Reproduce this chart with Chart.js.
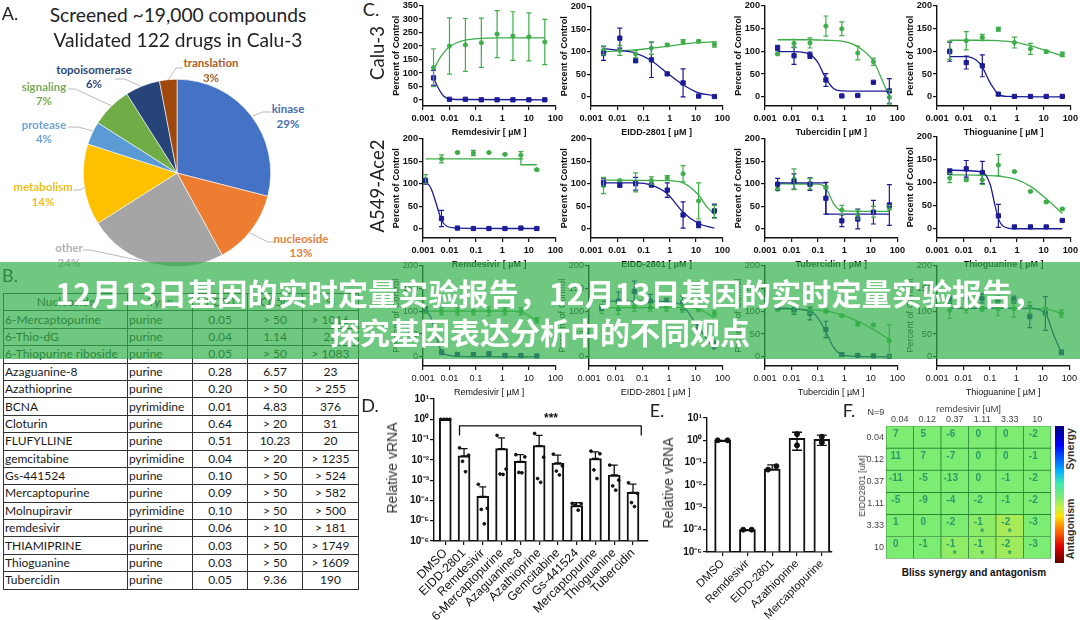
<!DOCTYPE html>
<html>
<head>
<meta charset="utf-8">
<script src="https://cdn.jsdelivr.net/npm/chart.js@4"></script>
<style>
  html, body { margin: 0; padding: 0; background: #fff; }
  body { position: relative; width: 1080px; height: 620px; overflow: hidden; }
  canvas { position: absolute; }
  .txt { position: absolute; white-space: nowrap; transform-origin: center; line-height: 1; }
  #leaders { position: absolute; left: 0; top: 0; }
  #drugTable { position: absolute; left: 3px; top: 293px; border-collapse: collapse; table-layout: fixed; font: 12px Lato, sans-serif; color: #1a1a1a; }
  #drugTable td { border: 1px solid #333; height: 16.4px; padding: 0 0 0 1px; white-space: nowrap; line-height: 1; }
  #drugTable td.num { text-align: center; padding: 0; }
  #colorbar { position: absolute; left: 1055px; top: 426px; width: 9px; height: 137px;
    background: linear-gradient(#00007f 0%, #0000ff 14%, #00b4ff 33%, #3fe8b0 42%, #7cec72 52%, #c8f040 60%, #ffe000 66%, #ff7000 76%, #e00000 88%, #600000 100%); }
  #banner { position: absolute; left: 0; top: 262px; width: 1080px; height: 97px; background: rgba(50, 176, 74, 0.7); z-index: 10; }
  .bannerLine { position: absolute; left: 0; width: 1080px; text-align: center; color: #fff; font: 700 30px "Noto Sans CJK SC", sans-serif; line-height: 1; white-space: nowrap; }
</style>
</head>
<body>
<svg id="leaders" width="360" height="280"></svg>
<table id="drugTable"></table>
<div id="colorbar"></div>
<div id="banner">
  <div class="bannerLine" style="top:15px;left:9px;letter-spacing:0.15px">12月13日基因的实时定量实验报告，12月13日基因的实时定量实验报告，</div>
  <div class="bannerLine" style="top:54px">探究基因表达分析中的不同观点</div>
</div>
<script>
// A. pie
const pieCategories = ["kinase", "nucleoside", "other", "metabolism", "protease", "signaling", "topoisomerase", "translation"];
const pieValues = [29, 13, 24, 14, 4, 7, 6, 3];
const pieColors = ["#4472c4", "#ed7d31", "#a5a5a5", "#ffc000", "#5b9bd5", "#70ad47", "#264478", "#9e480e"];

// B. table
const tableNames = ["Nucleoside", "6-Mercaptopurine", "6-Thio-dG", "6-Thiopurine riboside", "Azaguanine-8", "Azathioprine", "BCNA", "Cloturin", "FLUFYLLINE", "gemcitabine", "Gs-441524", "Mercaptopurine", "Molnupiravir", "remdesivir", "THIAMIPRINE", "Thioguanine", "Tubercidin"];
const tableTypes = ["Type", "purine", "purine", "purine", "purine", "purine", "pyrimidine", "purine", "purine", "pyrimidine", "purine", "purine", "pyrimidine", "purine", "purine", "purine", "purine"];
const tableEc50 = ["EC50", "0.05", "0.04", "0.05", "0.28", "0.20", "0.01", "0.64", "0.51", "0.04", "0.10", "0.09", "0.10", "0.06", "0.03", "0.03", "0.05"];
const tableCc50 = ["CC50", "> 50", "1.14", "> 50", "6.57", "> 50", "4.83", "> 20", "10.23", "> 20", "> 50", "> 50", "> 50", "> 10", "> 50", "> 50", "9.36"];
const tableSi = ["SI", "> 1016", "26", "> 1083", "23", "> 255", "376", "31", "20", "> 1235", "> 524", "> 582", "> 500", "> 181", "> 1749", "> 1609", "190"];

// C. dose response, doses in uM
const doseWide = [0.0025, 0.01, 0.04, 0.16, 0.63, 2.5, 10, 40];
const doseLow = [0.00125, 0.005, 0.02, 0.08, 0.31, 1.25, 5, 20];
const doseStd = [0.003, 0.0125, 0.05, 0.2, 0.8, 3.2, 12.5, 50];
const logTickValues = [0.001, 0.01, 0.1, 1, 10, 100];
const logTickLabels = ["0.001", "0.01", "0.1", "1", "10", "100"];
const drugTitles = ["Remdesivir [ µM ]", "EIDD-2801 [ µM ]", "Tubercidin [ µM ]", "Thioguanine [ µM ]"];

const caluRemGreen = [120, 200, 204, 212, 244, 237, 234, 215];
const caluRemGreenErr = [70, 104, 98, 91, 87, 90, 89, 84];
const caluRemBlue = [82, 3, 3, 1, 1, 1, 1, 1];
const caluRemBlueErr = [28, 2, 2, 1, 1, 1, 1, 1];
const caluRemGreenCurve = [[0.0025, 110], [0.004, 150], [0.006, 175], [0.01, 197], [0.02, 213], [0.04, 222], [0.16, 228], [0.63, 230], [2.5, 230], [10, 230], [40, 230]];
const caluRemBlueCurve = [[0.0025, 85], [0.003, 65], [0.004, 40], [0.006, 15], [0.01, 4], [0.02, 2], [40, 1]];

const caluEiddGreen = [103, 103, 95, 108, 115, 122, 123, 116];
const caluEiddGreenErr = [10, 11, 8, 14, 3, 5, 3, 6];
const caluEiddBlue = [96, 130, 80, 82, 51, 31, 2, 1];
const caluEiddBlueErr = [15, 22, 3, 39, 2, 31, 1, 1];
const caluEiddGreenCurve = [[0.003, 100], [0.0125, 102], [0.05, 104], [0.2, 108], [0.8, 112], [3.2, 117], [12.5, 120], [50, 122]];
const caluEiddBlueCurve = [[0.003, 107], [0.0125, 103], [0.05, 97], [0.2, 80], [0.8, 53], [3.2, 27], [12.5, 9], [50, 3]];

const caluTubGreen = [94, 117, 118, 155, 149, 96, 77, -1];
const caluTubGreenErr = [2, 9, 11, 22, 15, 15, 8, 15];
const caluTubBlue = [107, 90, 91, 37, 2, 3, 32, 13];
const caluTubBlueErr = [6, 19, 7, 14, 1, 1, 1, 27];
const caluTubGreenCurve = [[0.003, 125], [0.05, 125], [0.2, 124], [0.8, 122], [3.2, 110], [12.5, 78], [30, 30], [50, 0]];
const caluTubBlueCurve = [[0.003, 99], [0.0125, 99], [0.05, 93], [0.1, 75], [0.2, 40], [0.4, 18], [0.8, 13], [3.2, 12.5], [50, 12.5]];

const caluThioGreen = [102, 123, 130, 148, 119, 105, 99, 93];
const caluThioGreenErr = [20, 20, 7, 4, 12, 12, 3, 5];
const caluThioBlue = [99, 75, 68, 6, 1, 1, 1, 1];
const caluThioBlueErr = [21, 14, 24, 3, 1, 1, 1, 1];
const caluThioGreenCurve = [[0.003, 124], [0.05, 124], [0.2, 123], [0.8, 120], [3.2, 112], [12.5, 101], [50, 90]];
const caluThioBlueCurve = [[0.003, 88], [0.0125, 88], [0.03, 80], [0.05, 65], [0.1, 30], [0.2, 6], [0.4, 1], [50, 0]];

const aceRemGreen = [110, 155, 169, 168, 169, 165, 163, 131];
const aceRemGreenErr = [10, 9, 2, 6, 1, 1, 8, 2];
const aceRemBlue = [105, 23, 2, 1, 1, 1, 2, 1];
const aceRemBlueErr = [6, 18, 2, 1, 1, 1, 1, 1];
const aceRemGreenCurve = [[0.00125, 155], [5, 155], [5, 142], [20, 142]];
const aceRemBlueCurve = [[0.00125, 105], [0.002, 90], [0.003, 60], [0.005, 20], [0.008, 6], [0.02, 2], [20, 1]];

const aceEiddGreen = [96, 107, 103, 107, 113, 122, 62, 38];
const aceEiddGreenErr = [18, 2, 21, 8, 5, 18, 40, 14];
const aceEiddBlue = [103, 97, 100, 97, 86, 31, 10, 40];
const aceEiddBlueErr = [8, 4, 14, 3, 16, 29, 7, 15];
const aceEiddGreenCurve = [[0.003, 108], [0.8, 107], [3.2, 102], [12.5, 75], [25, 50], [50, 32]];
const aceEiddBlueCurve = [[0.003, 102], [0.05, 102], [0.2, 97], [0.8, 78], [3.2, 37], [12.5, 12], [50, 2]];

const aceTubGreen = [88, 110, 100, 92, 42, 32, 38, 47];
const aceTubGreenErr = [1, 23, 12, 3, 10, 10, 12, 5];
const aceTubBlue = [99, 105, 99, 68, 18, 22, 37, 53];
const aceTubBlueErr = [13, 17, 14, 35, 13, 22, 26, 45];
const aceTubGreenCurve = [[0.003, 100], [0.1, 99], [0.2, 90], [0.4, 55], [0.8, 41], [3.2, 39], [50, 39]];
const aceTubBlueCurve = [[0.003, 102], [0.2, 102], [0.2, 33], [50, 33]];

const aceThioGreen = [110, 106, 106, 138, 124, 81, 58, 43];
const aceThioGreenErr = [10, 2, 10, 23, 1, 1, 2, 2];
const aceThioBlue = [124, 130, 122, 28, 4, 4, 4, 18];
const aceThioBlueErr = [6, 18, 24, 25, 1, 1, 1, 1];
const aceThioGreenCurve = [[0.003, 117], [0.05, 116], [0.2, 114], [0.8, 108], [3.2, 92], [12.5, 65], [50, 33]];
const aceThioBlueCurve = [[0.003, 127], [0.05, 123], [0.1, 95], [0.15, 50], [0.2, 22], [0.3, 6], [0.8, 0], [50, 0]];

const thirdRemGreen = [100, 100, 100, 100, 100, 100, 100, 80];
const thirdRemGreenErr = [5, 8, 8, 8, 10, 8, 8, 6];
const thirdRemBlue = [105, 10, 5, 5, 6, 3, 3, 2];
const thirdRemBlueErr = [5, 5, 3, 3, 5, 2, 2, 2];
const thirdRemGreenCurve = [[0.00125, 100], [0.08, 100], [1.25, 100], [5, 98], [10, 90], [20, 78]];
const thirdRemBlueCurve = [[0.00125, 105], [0.002, 85], [0.003, 50], [0.005, 12], [0.01, 3], [0.02, 1], [20, 0]];

const thirdEiddGreen = [105, 105, 110, 108, 108, 106, 105, 95];
const thirdEiddGreenErr = [10, 12, 10, 8, 8, 8, 6, 6];
const thirdEiddBlue = [107, 122, 143, 122, 120, 118, 60, 27];
const thirdEiddBlueErr = [6, 20, 23, 15, 8, 15, 10, 8];
const thirdEiddGreenCurve = [[0.003, 108], [0.05, 108], [3.2, 108], [12.5, 105], [50, 85]];
const thirdEiddBlueCurve = [[0.003, 122], [0.2, 122], [1, 120], [3.2, 112], [12.5, 65], [50, 15]];

const thirdTubGreen = [105, 105, 100, 100, 90, 72, 70, 35];
const thirdTubGreenErr = [5, 8, 5, 4, 2, 4, 2, 35];
const thirdTubBlue = [108, 103, 95, 60, 5, 3, 2, 1];
const thirdTubBlueErr = [4, 10, 14, 18, 3, 2, 2, 1];
const thirdTubGreenCurve = [[0.003, 105], [0.05, 103], [0.2, 100], [0.8, 92], [3.2, 78], [12.5, 60], [50, 38]];
const thirdTubBlueCurve = [[0.003, 107], [0.05, 100], [0.1, 85], [0.2, 55], [0.4, 20], [0.8, 5], [3, 1], [50, 0]];

const thirdThioGreen = [102, 105, 105, 105, 105, 108, 100, 95];
const thirdThioGreenErr = [18, 9, 5, 15, 18, 12, 8, 8];
const thirdThioBlue = [125, 130, 128, 125, 125, 88, 95, 10];
const thirdThioBlueErr = [8, 10, 10, 8, 8, 24, 37, 5];
const thirdThioGreenCurve = [[0.003, 106], [0.8, 106], [12.5, 105], [50, 95]];
const thirdThioBlueCurve = [[0.003, 106], [3.2, 106], [12.5, 95], [25, 50], [50, 8]];

// D. bars
const dCategories = ["DMSO", "EIDD-2801", "Remdesivir", "6-Mercaptopurine", "Azaguanine-8", "Azathioprine", "Gemcitabine", "Gs-441524", "Mercaptopurine", "Thioguanine", "Tubercidin"];
const dMeans = [1, 0.0158, 0.00016, 0.036, 0.0085, 0.05, 0.007, 0.000056, 0.0117, 0.0018, 0.00025];
const dErrTops = [1, 0.036, 0.00047, 0.12, 0.018, 0.16, 0.017, 0.000078, 0.025, 0.0055, 0.00063];
const dDots = [
  [1, 1, 1, 1],
  [0.039, 0.017, 0.0085, 0.0026],
  [0.00062, 0.000041, 0.000036, 0.000007],
  [0.16, 0.0035, 0.002, 0.0019],
  [0.018, 0.014, 0.0024, 0.0023],
  [0.2, 0.0135, 0.0012, 0.00078],
  [0.019, 0.005, 0.0028, 0.0018],
  [0.000071, 0.000069, 0.000059, 0.000033],
  [0.027, 0.02, 0.0032, 0.0012],
  [0.0055, 0.001, 0.00052, 0.00032],
  [0.00074, 0.00022, 0.000078, 0.00005]
];
const dDotOffsets = [-0.24, 0.24, -0.08, 0.08];
const dBracket = [[0.76, 0.16], [0.76, 0.47], [10.44, 0.47], [10.44, 0.16]];
const dTickValues = [10, 1, 0.1, 0.01, 0.001, 0.0001, 0.00001, 0.000001];
const dTickLabels = ["10¹", "10⁰", "10⁻¹", "10⁻²", "10⁻³", "10⁻⁴", "10⁻⁵", "10⁻⁶"];

// E. bars
const eCategories = ["DMSO", "Remdesivir", "EIDD-2801", "Azathioprine", "Mercaptopurine"];
const eMeans = [1, 0.0001, 0.052, 1.23, 1.1];
const eErrTops = [1, 0.0001, 0.08, 2.3, 1.7];
const eErrBottoms = [1, 0.0001, 0.05, 0.36, 0.6];
const eDots = [[1, 1], [0.0001, 0.0001], [0.049, 0.07], [1.9, 0.6], [1.45, 0.8]];
const eDotOffsets = [[-0.2, 0.2], [-0.17, 0.17], [-0.17, 0.17], [0, 0], [0, 0]];
const eTickValues = [10, 1, 0.1, 0.01, 0.001, 0.0001, 0.00001];
const eTickLabels = ["10¹", "10⁰", "10⁻¹", "10⁻²", "10⁻³", "10⁻⁴", "10⁻⁵"];

// F. heat map
const fColumns = ["0.04", "0.12", "0.37", "1.11", "3.33", "10"];
const fRows = ["0.04", "0.12", "0.37", "1.11", "3.33", "10"];
const fValues = [
  ["7", "5", "-6", "0", "0", "-2"],
  ["11", "7", "-7", "0", "0", "-1"],
  ["-11", "-5", "-13", "0", "-1", "-2"],
  ["-5", "-9", "-4", "-2", "-1", "-2"],
  ["1", "0", "-2", "-1", "-2", "-3"],
  ["0", "-1", "-1", "-1", "-2", "-3"]
];
const fStars = [[4, 3], [4, 4], [5, 2], [5, 3], [5, 4]];
const fBase = "#7cec72";
const fColors = [
  [fBase, fBase, fBase, fBase, fBase, fBase],
  [fBase, fBase, fBase, fBase, fBase, fBase],
  [fBase, fBase, fBase, fBase, fBase, fBase],
  [fBase, fBase, fBase, fBase, fBase, fBase],
  [fBase, fBase, fBase, "#8cec68", "#a8ea58", fBase],
  [fBase, fBase, "#90ec66", "#90ec66", "#a0ea5e", fBase]
];

// layout
const panelRects = [
  [423, 558, 5, 106], [591, 725, 6, 106], [765, 900, 5, 106], [937, 1073, 5, 106],
  [423, 558, 138, 238], [591, 725, 138, 238], [765, 900, 138, 238], [937, 1073, 136, 238],
  [423, 558, 265, 366], [589, 725, 265, 366], [765, 900, 265, 366], [937, 1072, 265, 366]
];
const GREEN = "#3fae4a";
const BLUE = "#1c1c96";
const INK = "#111";

function addText(str, x, y, o = {}) {
  const el = document.createElement("div");
  el.className = "txt";
  el.textContent = str;
  el.style.left = x + "px";
  el.style.top = y + "px";
  el.style.font = `${o.weight || 400} ${o.size || 12}px ${o.family || "Lato, sans-serif"}`;
  el.style.color = o.color || "#222";
  el.style.transform = `translate(-50%, -50%) rotate(${o.rotate || 0}deg)`;
  document.body.appendChild(el);
}

function addCanvas(left, top, width, height) {
  const c = document.createElement("canvas");
  c.width = width;
  c.height = height;
  c.style.left = left + "px";
  c.style.top = top + "px";
  c.style.width = width + "px";
  c.style.height = height + "px";
  document.body.appendChild(c);
  return c;
}

// error bars, read through the chart scales
const errorBarPlugin = {
  id: "errorBars",
  afterDatasetsDraw(chart) {
    const { ctx, scales: { x, y } } = chart;
    chart.data.datasets.forEach((ds) => {
      if (!ds.errBars) return;
      ctx.save();
      ctx.strokeStyle = ds.errColor;
      ctx.lineWidth = ds.errWidth || 1.2;
      ds.errBars.forEach((e) => {
        const px = x.getPixelForValue(e.x);
        const top = y.getPixelForValue(e.hi);
        const bot = y.getPixelForValue(e.lo);
        const cap = ds.errCap || 2.5;
        ctx.beginPath();
        ctx.moveTo(px, top);
        ctx.lineTo(px, bot);
        ctx.moveTo(px - cap, top);
        ctx.lineTo(px + cap, top);
        ctx.moveTo(px - cap, bot);
        ctx.lineTo(px + cap, bot);
        ctx.stroke();
      });
      ctx.restore();
    });
  },
};

function axisStyle(font, tickLength) {
  return {
    border: { color: INK, width: 1.4 },
    grid: { drawOnChartArea: false, drawTicks: true, tickLength: tickLength || 4, tickColor: INK, lineWidth: 1.2, offset: false },
    ticks: { color: INK, font, padding: 1, autoSkip: false, maxRotation: 0 },
  };
}

function fixedTicks(values) {
  return (scale) => {
    scale.ticks = values.map((value) => ({ value }));
  };
}

function doseChart(rect, xTitle, dose, green, greenErr, blue, blueErr, greenCurve, blueCurve, opts) {
  const [l, r, t, b] = rect;
  const padL = 32, padR = 8, padT = 6, padB = 32;
  const canvas = addCanvas(l - padL, t - padT, r - l + padL + padR, b - t + padT + padB);
  const weight = opts.thin ? 400 : 700;
  const tickFont = { family: "Liberation Sans", size: 9.2, weight };
  const xAxis = axisStyle(tickFont);
  const yAxis = axisStyle(tickFont);
  const yValues = opts.yTicks;
  const toPts = (xs, ys) => xs.map((v, i) => ({ x: v, y: ys[i] }));
  const toErr = (xs, ys, es) => xs.map((v, i) => ({ x: v, lo: ys[i] - es[i], hi: ys[i] + es[i] }));
  const curve = (pts, color, straight) => ({
    data: pts.map((p) => ({ x: p[0], y: p[1] })),
    showLine: true,
    pointRadius: 0,
    borderColor: color,
    borderWidth: 1.3,
    cubicInterpolationMode: straight ? "default" : "monotone",
    tension: 0,
    order: 2,
  });
  new Chart(canvas, {
    type: "scatter",
    data: {
      datasets: [
        curve(blueCurve, BLUE, opts.blueStep),
        curve(greenCurve, GREEN, opts.greenStep),
        {
          data: toPts(dose, blue), pointStyle: "rect", pointRadius: 3, backgroundColor: BLUE, borderColor: BLUE,
          errBars: toErr(dose, blue, blueErr), errColor: BLUE,
        },
        {
          data: toPts(dose, green), pointStyle: "circle", pointRadius: 2.1, backgroundColor: GREEN, borderColor: GREEN,
          errBars: toErr(dose, green, greenErr), errColor: GREEN,
        },
      ],
    },
    options: {
      responsive: false,
      animation: false,
      devicePixelRatio: 1,
      layout: { padding: { left: 0, right: padR, top: padT, bottom: 0 } },
      plugins: { legend: { display: false }, tooltip: { enabled: false } },
      events: [],
      scales: {
        x: {
          ...xAxis,
          type: "logarithmic",
          min: 0.001,
          max: 100,
          afterBuildTicks: fixedTicks(logTickValues),
          afterFit: (s) => { s.height = padB; },
          ticks: { ...xAxis.ticks, padding: 3, callback: (v) => logTickLabels[logTickValues.indexOf(v)] },
          title: { display: true, text: xTitle, color: INK, padding: 0, font: { family: "Liberation Sans", size: 9, weight } },
        },
        y: {
          ...yAxis,
          min: opts.yMin,
          max: yValues[yValues.length - 1],
          afterBuildTicks: fixedTicks(yValues),
          afterFit: (s) => { s.width = padL; },
          title: { display: true, text: "Percent of Control", color: INK, padding: 0, font: { family: "Liberation Sans", size: 9.2, weight } },
        },
      },
    },
    plugins: [errorBarPlugin],
  });
}

const ticks200 = [0, 50, 100, 150, 200];
const ticks350 = [0, 50, 100, 150, 200, 250, 300, 350];
doseChart(panelRects[0], drugTitles[0], doseWide, caluRemGreen, caluRemGreenErr, caluRemBlue, caluRemBlueErr, caluRemGreenCurve, caluRemBlueCurve, { yTicks: ticks350, yMin: -22 });
doseChart(panelRects[1], drugTitles[1], doseStd, caluEiddGreen, caluEiddGreenErr, caluEiddBlue, caluEiddBlueErr, caluEiddGreenCurve, caluEiddBlueCurve, { yTicks: ticks200, yMin: -20 });
doseChart(panelRects[2], drugTitles[2], doseStd, caluTubGreen, caluTubGreenErr, caluTubBlue, caluTubBlueErr, caluTubGreenCurve, caluTubBlueCurve, { yTicks: ticks200, yMin: -20 });
doseChart(panelRects[3], drugTitles[3], doseStd, caluThioGreen, caluThioGreenErr, caluThioBlue, caluThioBlueErr, caluThioGreenCurve, caluThioBlueCurve, { yTicks: ticks200, yMin: -20 });
doseChart(panelRects[4], drugTitles[0], doseLow, aceRemGreen, aceRemGreenErr, aceRemBlue, aceRemBlueErr, aceRemGreenCurve, aceRemBlueCurve, { yTicks: ticks200, yMin: -20, greenStep: true });
doseChart(panelRects[5], drugTitles[1], doseStd, aceEiddGreen, aceEiddGreenErr, aceEiddBlue, aceEiddBlueErr, aceEiddGreenCurve, aceEiddBlueCurve, { yTicks: ticks200, yMin: -20 });
doseChart(panelRects[6], drugTitles[2], doseStd, aceTubGreen, aceTubGreenErr, aceTubBlue, aceTubBlueErr, aceTubGreenCurve, aceTubBlueCurve, { yTicks: ticks200, yMin: -20, blueStep: true });
doseChart(panelRects[7], drugTitles[3], doseStd, aceThioGreen, aceThioGreenErr, aceThioBlue, aceThioBlueErr, aceThioGreenCurve, aceThioBlueCurve, { yTicks: ticks200, yMin: -20 });
doseChart(panelRects[8], drugTitles[0], doseLow, thirdRemGreen, thirdRemGreenErr, thirdRemBlue, thirdRemBlueErr, thirdRemGreenCurve, thirdRemBlueCurve, { yTicks: ticks200, yMin: -20, thin: true });
doseChart(panelRects[9], drugTitles[1], doseStd, thirdEiddGreen, thirdEiddGreenErr, thirdEiddBlue, thirdEiddBlueErr, thirdEiddGreenCurve, thirdEiddBlueCurve, { yTicks: ticks200, yMin: -20, thin: true });
doseChart(panelRects[10], drugTitles[2], doseStd, thirdTubGreen, thirdTubGreenErr, thirdTubBlue, thirdTubBlueErr, thirdTubGreenCurve, thirdTubBlueCurve, { yTicks: ticks200, yMin: -20, thin: true });
doseChart(panelRects[11], drugTitles[3], doseStd, thirdThioGreen, thirdThioGreenErr, thirdThioBlue, thirdThioBlueErr, thirdThioGreenCurve, thirdThioBlueCurve, { yTicks: ticks200, yMin: -20, thin: true });

// D and E share the same bar drawing
function barChart(rect, pads, cfg) {
  const [l, r, t, b] = rect;
  const canvas = addCanvas(l - pads.left, t - pads.top, r - l + pads.left + pads.right, b - t + pads.top + pads.bottom);
  const tickFont = { family: "Liberation Sans", size: 10, weight: 700 };
  const xAxis = axisStyle({ family: "Liberation Sans", size: cfg.labelSize });
  const yAxis = axisStyle(tickFont);
  const datasets = [
    {
      type: "bar",
      data: cfg.means.map((v, i) => ({ x: i, y: v })),
      base: cfg.tickValues[cfg.tickValues.length - 1],
      barThickness: cfg.barWidth,
      backgroundColor: "#fff",
      borderColor: INK,
      borderWidth: 2,
      order: 3,
      errBars: cfg.means.map((v, i) => ({ x: i, lo: cfg.errBottoms ? cfg.errBottoms[i] : v, hi: cfg.errTops[i] })),
      errColor: INK,
      errCap: cfg.errCap,
      errWidth: 1.3,
    },
    {
      type: "scatter",
      data: cfg.dots,
      pointRadius: cfg.dotRadius,
      backgroundColor: INK,
      borderColor: INK,
      order: 1,
    },
  ];
  if (cfg.bracket) {
    datasets.push({
      type: "line",
      data: cfg.bracket.map((p) => ({ x: p[0], y: p[1] })),
      pointRadius: 0,
      borderColor: INK,
      borderWidth: 1.3,
      tension: 0,
      order: 2,
    });
  }
  new Chart(canvas, {
    type: "bar",
    data: { datasets },
    options: {
      responsive: false,
      animation: false,
      devicePixelRatio: 1,
      events: [],
      layout: { padding: { left: 0, right: pads.right, top: pads.top, bottom: 0 } },
      plugins: { legend: { display: false }, tooltip: { enabled: false } },
      scales: {
        x: {
          ...xAxis,
          type: "linear",
          offset: false,
          min: cfg.xMin,
          max: cfg.xMax,
          afterBuildTicks: fixedTicks(cfg.categories.map((_, i) => i)),
          afterFit: (s) => { s.height = pads.bottom; },
          ticks: { ...xAxis.ticks, minRotation: 45, maxRotation: 45, callback: (v) => cfg.categories[v] },
        },
        y: {
          ...yAxis,
          type: "logarithmic",
          min: cfg.tickValues[cfg.tickValues.length - 1],
          max: cfg.tickValues[0],
          afterBuildTicks: fixedTicks(cfg.tickValues),
          afterFit: (s) => { s.width = pads.left; },
          ticks: { ...yAxis.ticks, callback: (v) => cfg.tickLabels[cfg.tickValues.indexOf(v)] },
        },
      },
    },
    plugins: [errorBarPlugin],
  });
}

barChart([434, 649, 398, 541], { left: 40, right: 4, top: 6, bottom: 79 }, {
  categories: dCategories, means: dMeans, errTops: dErrTops,
  dots: dDots.flatMap((row, i) => row.map((v, k) => ({ x: i + dDotOffsets[k], y: v }))),
  bracket: dBracket, tickValues: dTickValues, tickLabels: dTickLabels,
  xMin: -0.6, xMax: 10.8, barWidth: 12, dotRadius: 1.4, errCap: 3.5, labelSize: 12.2,
});
barChart([707, 835, 417, 552], { left: 34, right: 2, top: 6, bottom: 68 }, {
  categories: eCategories, means: eMeans, errTops: eErrTops, errBottoms: eErrBottoms,
  dots: eDots.flatMap((row, i) => row.map((v, k) => ({ x: i + eDotOffsets[i][k], y: v }))),
  tickValues: eTickValues, tickLabels: eTickLabels,
  xMin: -0.63, xMax: 4.41, barWidth: 16, dotRadius: 2.5, errCap: 5, labelSize: 11.3,
});

// F heat map as stacked bars, one dataset per row
const heatTextPlugin = {
  id: "heatText",
  afterDatasetsDraw(chart) {
    const { ctx } = chart;
    ctx.save();
    ctx.textAlign = "center";
    ctx.textBaseline = "middle";
    ctx.fillStyle = "#2c9a66";
    fValues.forEach((row, r) => {
      const bars = chart.getDatasetMeta(r).data;
      row.forEach((v, c) => {
        const bar = bars[c];
        const top = Math.min(bar.y, bar.base);
        ctx.font = "700 10px 'Liberation Sans'";
        ctx.fillText(v, bar.x - 4, top + 8);
      });
    });
    fStars.forEach(([r, c]) => {
      const bar = chart.getDatasetMeta(r).data[c];
      ctx.font = "700 10px 'Liberation Sans'";
      ctx.fillText("*", bar.x, Math.min(bar.y, bar.base) + 19);
    });
    ctx.restore();
  },
};

(function heatMap() {
  const l = 886, r = 1051, t = 426, b = 563;
  const padL = 30, padT = 22;
  const canvas = addCanvas(l - padL, t - padT, r - l + padL + 3, b - t + padT + 3);
  const labelFont = { family: "Liberation Sans", size: 9 };
  new Chart(canvas, {
    type: "bar",
    data: {
      labels: fColumns,
      datasets: fRows.map((_, i) => ({
        data: fColumns.map(() => 1),
        backgroundColor: fColors[i],
        borderColor: "#1f7a2c",
        borderWidth: 0.7,
        borderSkipped: false,
        categoryPercentage: 1,
        barPercentage: 1,
      })),
    },
    options: {
      responsive: false,
      animation: false,
      devicePixelRatio: 1,
      events: [],
      layout: { padding: { left: 0, right: 3, top: 0, bottom: 3 } },
      plugins: { legend: { display: false }, tooltip: { enabled: false } },
      scales: {
        x: {
          position: "top",
          stacked: true,
          border: { display: false },
          grid: { display: false, drawTicks: false },
          afterFit: (s) => { s.height = padT; },
          ticks: { color: "#444", font: labelFont, padding: 1, maxRotation: 0 },
          title: { display: true, text: "remdesivir [uM]", color: "#444", padding: 0, font: { family: "Liberation Sans", size: 9.5 } },
        },
        y: {
          stacked: true,
          reverse: true,
          min: 0,
          max: 6,
          border: { display: false },
          grid: { display: false, drawTicks: false },
          afterBuildTicks: fixedTicks(fRows.map((_, i) => i + 0.5)),
          afterFit: (s) => { s.width = padL; },
          ticks: { color: "#444", font: labelFont, padding: 2, autoSkip: false, callback: (v) => fRows[Math.floor(v)] },
        },
      },
    },
    plugins: [heatTextPlugin],
  });
})();

// A pie
new Chart(addCanvas(83, 79, 188, 188), {
  type: "pie",
  data: { labels: pieCategories, datasets: [{ data: pieValues, backgroundColor: pieColors, borderColor: "#fff", borderWidth: 0.6 }] },
  options: {
    responsive: false,
    animation: false,
    devicePixelRatio: 1,
    events: [],
    layout: { padding: 0 },
    plugins: { legend: { display: false }, tooltip: { enabled: false } },
  },
});

const pieLabelLayout = [
  { x: 288, y: 108, y2: 123, color: "#4a6fae" },
  { x: 301, y: 238, y2: 252, color: "#e0823f" },
  { x: 69, y: 247, y2: 262, color: "#b0b0b0" },
  { x: 43, y: 186, y2: 201, color: "#f2bd1e" },
  { x: 44, y: 124, y2: 138, color: "#6ea3d6" },
  { x: 44, y: 86, y2: 100, color: "#79ac55" },
  { x: 94, y: 69, y2: 83, color: "#2f4a78" },
  { x: 211, y: 62, y2: 77, color: "#a9602c" },
];
pieCategories.forEach((name, i) => {
  const p = pieLabelLayout[i];
  addText(name, p.x, p.y, { size: 11.5, weight: 700, color: p.color });
  addText(pieValues[i] + "%", p.x, p.y2, { size: 11.5, weight: 700, color: p.color });
});

const leaderPaths = ["253,116 263,112 271,112", "250,233 268,242 274,242", "83,250 90,250 147,262", "73,190 80,190 85,187", "68,127 78,127 93,131", "68,89 75,89 112,106", "115,79 125,79 142,87", "168,80 176,68 183,68"];
document.getElementById("leaders").innerHTML = leaderPaths
  .map((p) => `<polyline points="${p}" fill="none" stroke="#a8a8a8" stroke-width="0.8"/>`)
  .join("");

// B table
document.getElementById("drugTable").innerHTML =
  `<colgroup><col style="width:124px"><col style="width:65px"><col style="width:55px"><col style="width:55px"><col style="width:56px"></colgroup>` +
  tableNames.map((name, i) => {
    const head = i === 0;
    return `<tr><td${head ? ' style="text-align:center"' : ""}>${name}</td><td${head ? ' style="text-align:center"' : ""}>${tableTypes[i]}</td>` +
      `<td class="num">${tableEc50[i]}</td><td class="num">${tableCc50[i]}</td><td class="num">${tableSi[i]}</td></tr>`;
  }).join("");

// free text
addText("Screened ~19,000 compounds", 178, 14, { size: 19.2 });
addText("Validated 122 drugs in Calu-3", 178, 39, { size: 19.2 });
addText("A.", 10, 13, { size: 18 });
addText("B.", 10, 275, { size: 18 });
addText("C.", 371, 9, { size: 18 });
addText("D.", 370, 405, { size: 18 });
addText("E.", 657, 410, { size: 18 });
addText("F.", 849, 410, { size: 18 });
addText("Calu-3", 377, 53, { size: 18.5, rotate: -90 });
addText("A549-Ace2", 377, 186, { size: 18.5, rotate: -90 });
addText("Relative vRNA", 392, 468, { size: 14, family: "Liberation Sans", rotate: -90, color: "#333" });
addText("Relative vRNA", 668, 483, { size: 14, family: "Liberation Sans", rotate: -90, color: "#333" });
addText("***", 551, 418, { size: 12, weight: 700, family: "Liberation Sans", color: INK });
addText("N=9", 876, 412, { size: 9, family: "Liberation Sans", color: "#333" });
addText("EIDD2801 [uM]", 862, 486, { size: 9, family: "Liberation Sans", rotate: -90, color: "#444" });
addText("Bliss synergy and antagonism", 974, 572, { size: 10, weight: 700, family: "Liberation Sans", color: INK });
addText("Synergy", 1070, 449, { size: 10.5, weight: 700, family: "Liberation Sans", rotate: -90, color: "#333" });
addText("Antagonism", 1070, 529, { size: 10.5, weight: 700, family: "Liberation Sans", rotate: -90, color: "#333" });
</script>
</body>
</html>
